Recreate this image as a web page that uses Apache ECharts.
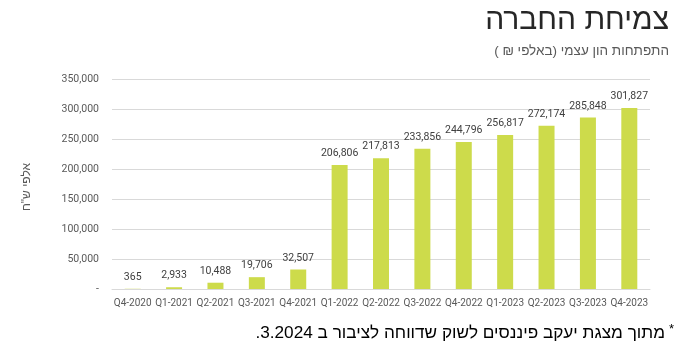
<!DOCTYPE html>
<html>
<head>
<meta charset="utf-8">
<script src="https://cdn.jsdelivr.net/npm/echarts@6/dist/echarts.min.js"></script>
<style>
html,body{margin:0;padding:0;background:#fff;}
#c{width:676px;height:353px;}
</style>
</head>
<body>
<div id="c" dir="rtl"></div>
<script>
const categories = ['Q4-2020','Q1-2021','Q2-2021','Q3-2021','Q4-2021','Q1-2022','Q2-2022','Q3-2022','Q4-2022','Q1-2023','Q2-2023','Q3-2023','Q4-2023'];
const equity = [365, 2933, 10488, 19706, 32507, 206806, 217813, 233856, 244796, 256817, 272174, 285848, 301827];
const titleText = 'צמיחת החברה';
const subtitleText = 'התפתחות הון עצמי (באלפי ₪ )';
const yAxisName = 'אלפי ש"ח';
const footnoteText = 'מתוך מצגת יעקב פיננסים לשוק שדווחה לציבור ב 3.2024.';

const fmt = v => v === 0 ? '-   ' : v.toLocaleString('en-US');
const chart = echarts.init(document.getElementById('c'), null, {renderer: 'canvas'});
chart.setOption({
  animation: false,
  backgroundColor: '#fff',
  grid: {left: 112, right: 26, top: 79, bottom: 64, containLabel: false},
  xAxis: {
    type: 'category', data: categories,
    axisLine: {show: true, lineStyle: {color: '#d9d9d9'}},
    axisTick: {show: false},
    axisLabel: {color: '#595959', fontFamily: 'Roboto', fontSize: 10, margin: 9, interval: 0}
  },
  yAxis: {
    type: 'value', min: 0, max: 350000, interval: 50000,
    axisLine: {show: false}, axisTick: {show: false},
    splitLine: {lineStyle: {color: '#d9d9d9'}},
    axisLabel: {color: '#595959', fontFamily: 'Roboto', fontSize: 10.5, margin: 13, formatter: fmt}
  },
  series: [{
    type: 'bar', data: equity, barWidth: 16,
    itemStyle: {color: '#cddb4b'},
    label: {show: true, position: 'top', distance: 6, color: '#404040', fontFamily: 'Roboto', fontSize: 10.5,
      formatter: p => p.value.toLocaleString('en-US')}
  }],
  graphic: [
    {type: 'text', right: 7, top: 6, style: {text: titleText, fontFamily: 'Liberation Sans', fontSize: 30, fill: '#262626', textAlign: 'right'}},
    {type: 'text', right: 7, top: 44, style: {text: subtitleText, fontFamily: 'Liberation Sans', fontSize: 13.5, fill: '#595959', textAlign: 'right'}},
    {type: 'text', x: 27, y: 187, rotation: Math.PI / 2, style: {text: yAxisName, fontFamily: 'Liberation Sans', fontSize: 12, fill: '#595959', textAlign: 'center', textVerticalAlign: 'middle'}},
    {type: 'text', right: 11, top: 325, style: {text: footnoteText, fontFamily: 'Liberation Sans', fontSize: 17.2, fill: '#000', textAlign: 'right'}},
    {type: 'text', right: 2, top: 323, style: {text: '*', fontFamily: 'Liberation Sans', fontSize: 13, fill: '#000'}}
  ]
});
</script>
</body>
</html>
